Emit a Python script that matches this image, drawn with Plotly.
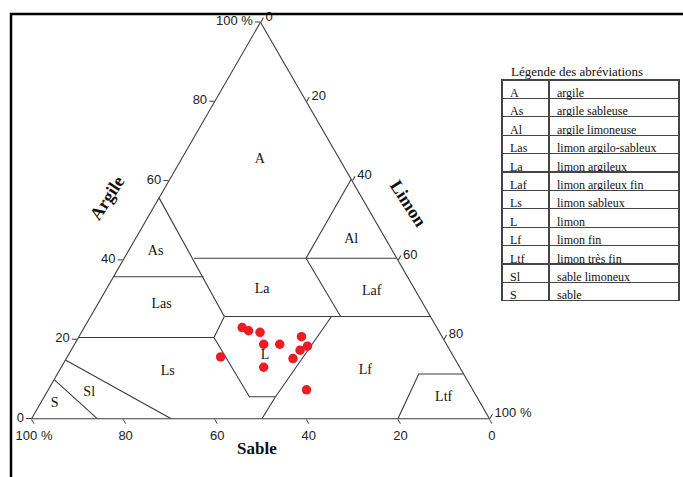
import plotly.graph_objects as go

W, H = 683, 477

# Soil samples: clay / silt / sand fractions (%)
argile = [23.0, 22.2, 21.8, 18.8, 18.8, 20.7, 18.3, 17.3, 15.2, 13.0, 15.6, 7.3]
limon = [34.5, 36.3, 39.0, 41.3, 44.8, 48.6, 51.1, 50.0, 49.5, 44.2, 33.5, 56.4]
sable = [42.5, 41.5, 39.2, 39.9, 36.4, 30.7, 30.6, 32.7, 35.3, 42.8, 50.9, 36.3]

# Texture class boundaries, vertices given as (argile, limon, sable)
limites = [
    [(55.7, 0.0, 44.3), (25.8, 29.2, 45.0)],
    [(35.8, 0.0, 64.2), (35.8, 19.7, 44.5)],
    [(40.5, 15.2, 44.3), (40.5, 59.5, 0.0)],
    [(40.5, 39.7, 19.8), (60.4, 39.6, 0.0)],
    [(40.5, 39.7, 19.8), (25.8, 54.6, 19.6)],
    [(25.8, 29.2, 45.0), (25.8, 74.2, 0.0)],
    [(25.8, 29.2, 45.0), (20.5, 29.6, 49.9), (5.55, 44.8, 49.65), (5.55, 50.5, 43.95)],
    [(20.5, 0.0, 79.5), (20.5, 29.6, 49.9)],
    [(0.0, 50.3, 49.7), (5.55, 50.5, 43.95), (25.8, 52.6, 21.6)],
    [(14.8, 0.0, 85.2), (0.0, 30.5, 69.5)],
    [(9.9, 0.0, 90.1), (0.0, 14.4, 85.6)],
    [(0.0, 80.0, 20.0), (11.3, 78.9, 9.8), (11.3, 88.7, 0.0)],
]

# Class abbreviations and their label anchor (argile, limon, sable)
classes = ["A", "As", "Las", "La", "Al", "Laf", "Ls", "L", "Lf", "Ltf", "Sl", "S"]
cl_argile = [65.5, 42.2, 28.8, 32.7, 45.2, 32.0, 11.9, 16.0, 12.2, 5.4, 6.6, 3.9]
cl_limon = [17.1, 6.0, 14.0, 34.0, 47.2, 58.3, 23.8, 43.0, 66.8, 87.3, 9.3, 3.1]
cl_sable = [17.4, 51.8, 57.2, 33.3, 7.6, 9.7, 64.3, 41.0, 21.0, 7.3, 84.1, 93.0]

# Legend table content
codes = ["A", "As", "Al", "Las", "La", "Laf", "Ls", "L", "Lf", "Ltf", "Sl", "S"]
noms = ["argile", "argile sableuse", "argile limoneuse", "limon argilo-sableux",
        "limon argileux", "limon argileux fin", "limon sableux", "limon",
        "limon fin", "limon très fin", "sable limoneux", "sable"]

tick_vals = [0, 20, 40, 60, 80, 100]
tick_text = ["0", "20", "40", "60", "80", "100 %"]

LINE = "#3c3c3c"
SERIF = "Liberation Serif"
SANS = "Liberation Sans"


def px(x):
    return x / W


def py(y):
    return 1 - y / H


fig = go.Figure()

for seg in limites:
    fig.add_trace(go.Scatterternary(
        a=[p[0] for p in seg], c=[p[1] for p in seg], b=[p[2] for p in seg],
        mode="lines", line=dict(color=LINE, width=1.1),
        hoverinfo="skip", showlegend=False,
    ))

fig.add_trace(go.Scatterternary(
    a=cl_argile, c=cl_limon, b=cl_sable, mode="text", text=classes,
    textfont=dict(family=SERIF, size=14, color="#111"),
    hoverinfo="skip", showlegend=False,
))

fig.add_trace(go.Scatterternary(
    a=argile, c=limon, b=sable, mode="markers",
    marker=dict(color="#ec1c24", size=9.5, line=dict(width=0)),
    showlegend=False, name="échantillons",
))

axis_common = dict(
    min=0, tickmode="array", tickvals=tick_vals, ticktext=tick_text,
    ticks="outside", ticklen=5, tickcolor=LINE, tickwidth=1,
    showgrid=False, showline=True, linecolor=LINE, linewidth=1.1,
    tickfont=dict(family=SANS, size=13, color="#222"),
    title=dict(text=""),
)

fig.update_layout(
    width=W, height=H,
    margin=dict(l=0, r=0, t=0, b=0),
    paper_bgcolor="white",
    ternary=dict(
        sum=100,
        bgcolor="white",
        domain=dict(x=[px(31.5), px(489.5)], y=[py(418.8), py(22.2)]),
        aaxis=axis_common,
        baxis=axis_common,
        caxis=axis_common,
    ),
)

fig.add_trace(go.Table(
    domain=dict(x=[px(502), px(679)], y=[py(318), py(80)]),
    columnwidth=[47, 130],
    header=dict(
        values=[codes[0], noms[0]], height=18.4, align="left",
        line=dict(color="#444", width=1.2), fill=dict(color="white"),
        font=dict(family=SERIF, size=12, color="#111"),
    ),
    cells=dict(
        values=[codes[1:], noms[1:]], height=18.4, align="left",
        line=dict(color="#444", width=1.2), fill=dict(color="white"),
        font=dict(family=SERIF, size=12, color="#111"),
    ),
))

ann = [
    dict(text="Légende des abréviations", x=px(577), y=py(71),
         font=dict(family=SERIF, size=13, color="#111")),
    dict(text="<b>Argile</b>", x=px(107), y=py(198), textangle=-57,
         font=dict(family=SERIF, size=18, color="#111")),
    dict(text="<b>Limon</b>", x=px(408), y=py(203), textangle=57,
         font=dict(family=SERIF, size=18, color="#111")),
    dict(text="<b>Sable</b>", x=px(257), y=py(448),
         font=dict(family=SERIF, size=17, color="#111")),
]
for a in ann:
    a.update(xref="paper", yref="paper", showarrow=False,
             xanchor="center", yanchor="middle")
fig.update_layout(annotations=ann)

# Outer frame (top and left edges)
fig.add_shape(type="line", xref="paper", yref="paper",
              x0=px(10), x1=1, y0=py(14), y1=py(14),
              line=dict(color="black", width=2.5))
fig.add_shape(type="line", xref="paper", yref="paper",
              x0=px(11), x1=px(11), y0=py(13), y1=0,
              line=dict(color="black", width=2.5))

fig.write_html("out.html")
